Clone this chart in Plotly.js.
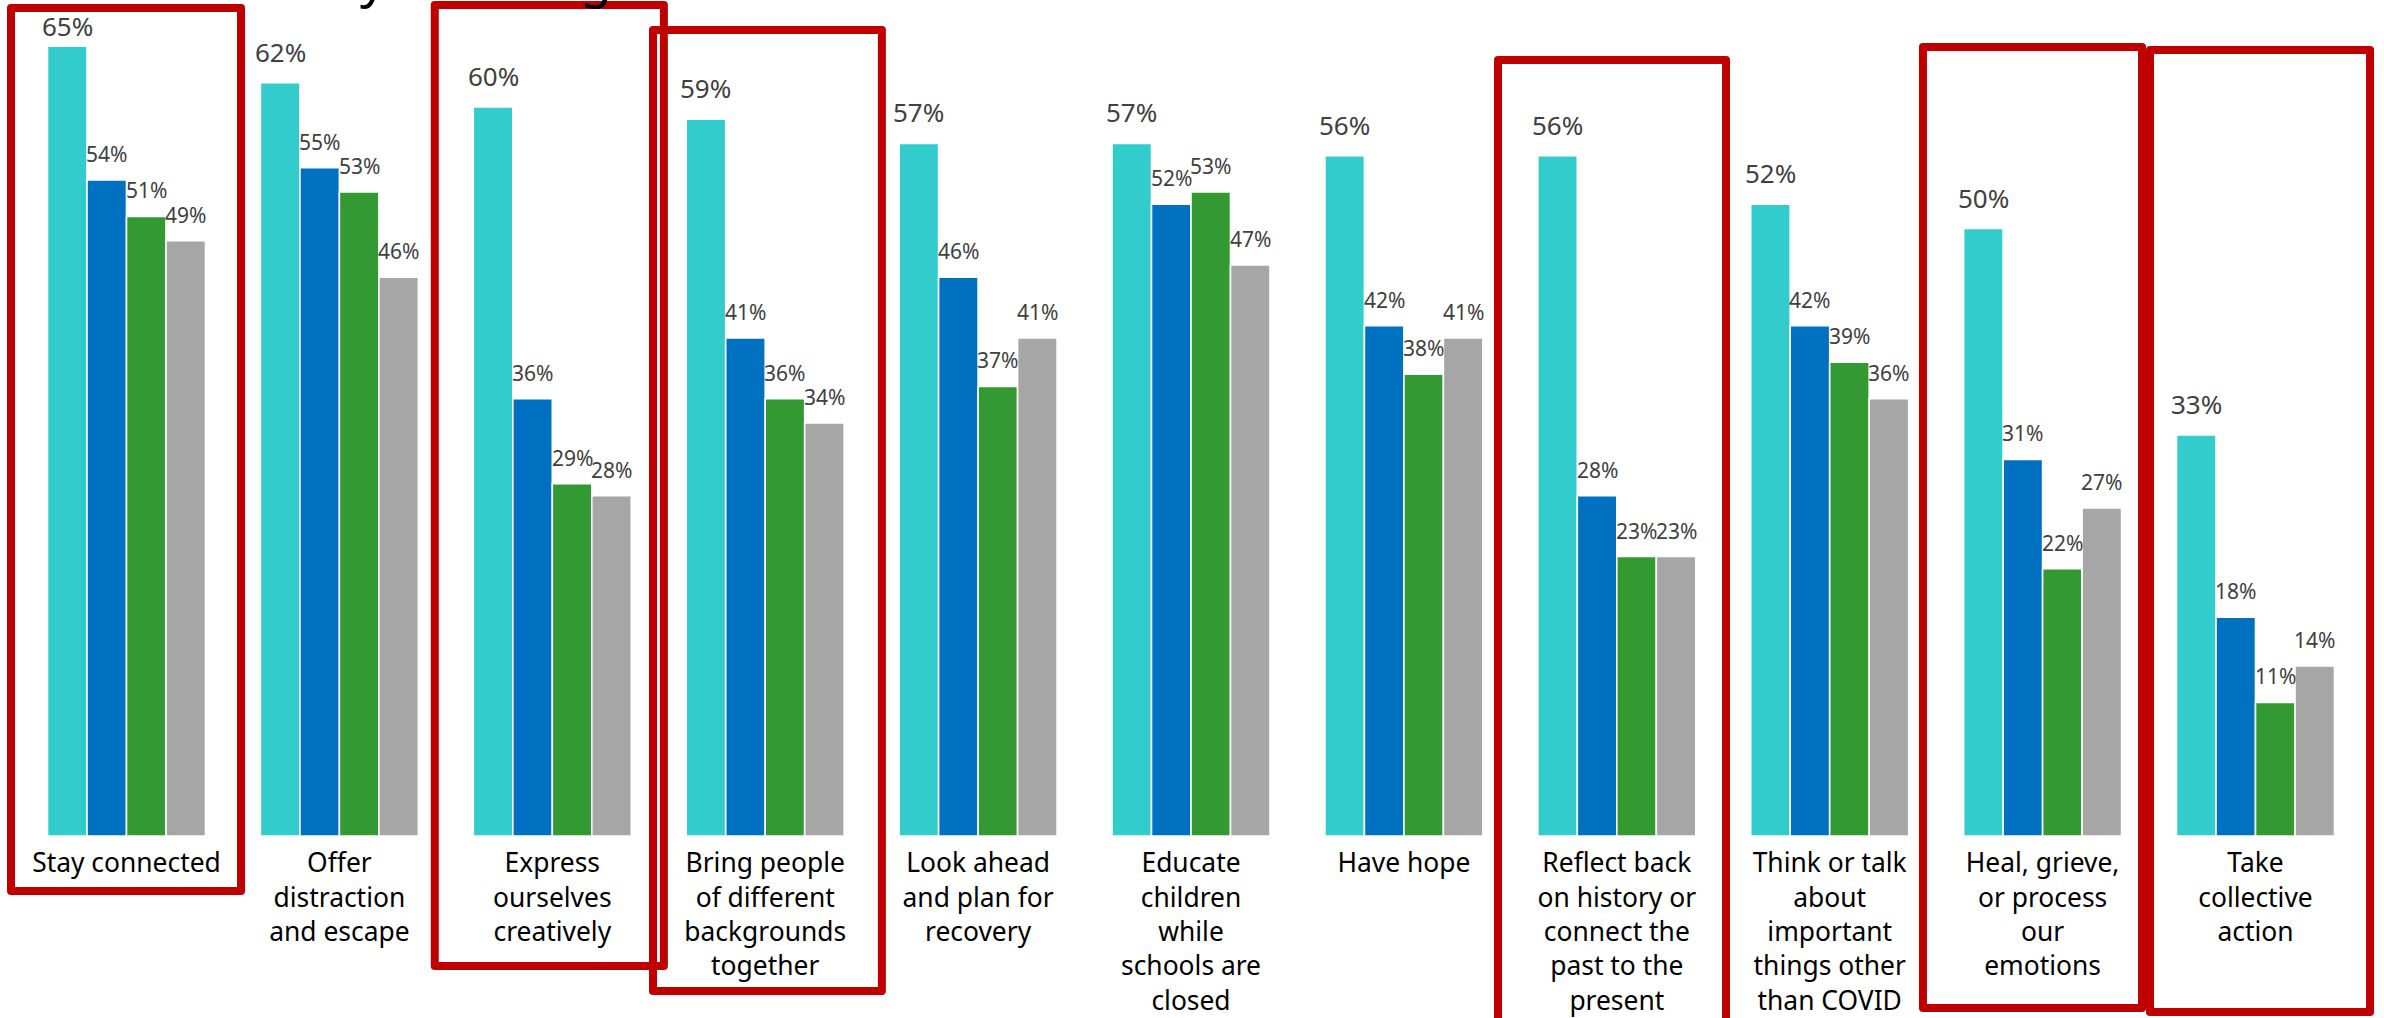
<!DOCTYPE html>
<html>
<head>
<meta charset="utf-8">
<script src="https://cdn.plot.ly/plotly-3.0.1.min.js"></script>
<style>
  html, body { margin: 0; padding: 0; background: #ffffff; }
  #chart { width: 2384px; height: 1018px; }
  .shapelayer path { stroke-linejoin: round; }
</style>
</head>
<body>
<div id="chart"></div>
<script>
// Category tick labels (line breaks as drawn under each group)
const categories = [
  "Stay connected",
  "Offer<br>distraction<br>and escape",
  "Express<br>ourselves<br>creatively",
  "Bring people<br>of different<br>backgrounds<br>together",
  "Look ahead<br>and plan for<br>recovery",
  "Educate<br>children<br>while<br>schools are<br>closed",
  "Have hope",
  "Reflect back<br>on history or<br>connect the<br>past to the<br>present",
  "Think or talk<br>about<br>important<br>things other<br>than COVID",
  "Heal, grieve,<br>or process<br>our<br>emotions",
  "Take<br>collective<br>action"
];

// Percent values for the four series, one per category
const seriesTeal  = [65, 62, 60, 59, 57, 57, 56, 56, 52, 50, 33];
const seriesBlue  = [54, 55, 36, 41, 46, 52, 42, 28, 42, 31, 18];
const seriesGreen = [51, 53, 29, 36, 37, 53, 38, 23, 39, 22, 11];
const seriesGray  = [49, 46, 28, 34, 41, 47, 41, 23, 36, 27, 14];

// Categories outlined with a red highlight box
const highlighted = [
  "Stay connected",
  "Express<br>ourselves<br>creatively",
  "Bring people<br>of different<br>backgrounds<br>together",
  "Reflect back<br>on history or<br>connect the<br>past to the<br>present",
  "Heal, grieve,<br>or process<br>our<br>emotions",
  "Take<br>collective<br>action"
];

// ---- styling ----
const W = 2384, H = 1018;
const marginB = 182;
const plotH = H - marginB;
const pxPerPct = 12.15;
const colors = ["#33CCCC", "#0070C0", "#339933", "#A6A6A6"];
const series = [seriesTeal, seriesBlue, seriesGreen, seriesGray];
const names = ["Teal", "Blue", "Green", "Gray"];
const pitch = 0.1855;          // bar slot width in category units
const labelFont = "Noto Sans, Open Sans, sans-serif";

const idx = categories.map((_, i) => i);

const traces = series.map((vals, k) => ({
  type: "bar",
  name: names[k],
  x: idx,
  y: vals,
  offset: (k - 2) * pitch,
  width: pitch,
  marker: { color: colors[k], line: { color: "#ffffff", width: 1.6 } },
  hoverinfo: "y",
  showlegend: false
}));

// value labels above each bar; a label that would run off the top is pulled down
const annotations = [];
series.forEach((vals, k) => {
  const size = k === 0 ? 26 : 21;
  const boxH = Math.round(size * 1.36) + 2;
  const baseShift = k === 0 ? 11 : 10;
  vals.forEach((v, i) => {
    const barTop = plotH - v * pxPerPct;
    const shift = Math.max(0, Math.min(baseShift, barTop - boxH - 9));
    annotations.push({
      x: i + (k - 1.5) * pitch,
      y: v,
      xref: "x", yref: "y",
      text: v + "%",
      showarrow: false,
      yanchor: "bottom",
      xanchor: "center",
      yshift: shift,
      font: { family: labelFont, size: size, color: "#404040" }
    });
  });
});

// descenders of the heading line running above the chart
annotations.push(
  { xref: "paper", yref: "paper", x: 373 / W, y: 1, yanchor: "bottom", xanchor: "center",
    yshift: -13, text: "y", showarrow: false,
    font: { family: labelFont, size: 52, color: "#000000" } },
  { xref: "paper", yref: "paper", x: 596 / W, y: 1, yanchor: "bottom", xanchor: "center",
    yshift: -13, text: "g", showarrow: false,
    font: { family: labelFont, size: 52, color: "#000000" } }
);

// highlight boxes: [left, right] offsets in category units, [top, bottom] in page px
const boxStyle = [
  { dx: [-0.5425, 0.5378], py: [8, 891] },
  { dx: [-0.552, 0.524],   py: [5, 966] },
  { dx: [-0.527, 0.548],   py: [30, 991] },
  { dx: [-0.558, 0.513],   py: [60, 1030] },
  { dx: [-0.562, 0.467],   py: [47, 1008] },
  { dx: [-0.4955, 0.538],  py: [50, 1012] }
];
const toPaperY = px => (plotH - px) / plotH;
const shapes = highlighted.map((name, j) => {
  const i = categories.indexOf(name);
  const s = boxStyle[j];
  return {
    type: "rect", layer: "above",
    xref: "x", yref: "paper",
    x0: i + s.dx[0], x1: i + s.dx[1],
    y0: toPaperY(s.py[1]), y1: toPaperY(s.py[0]),
    line: { color: "#C00000", width: 8 },
    fillcolor: "rgba(0,0,0,0)"
  };
});

const unit = 212.9;                 // px per category
const firstCenter = 126.5;          // px position of the first group centre
const x0 = -firstCenter / unit;

const layout = {
  width: W, height: H,
  margin: { l: 0, r: 0, t: 0, b: marginB, pad: 0 },
  paper_bgcolor: "#ffffff",
  plot_bgcolor: "#ffffff",
  barmode: "overlay",
  showlegend: false,
  xaxis: {
    range: [x0, x0 + W / unit],
    tickmode: "array",
    tickvals: idx,
    ticktext: categories,
    ticks: "",
    ticklabelstandoff: 9,
    showgrid: false, zeroline: false, showline: false,
    tickfont: { family: labelFont, size: 26.4, color: "#000000" },
    tickangle: 0,
    automargin: false
  },
  yaxis: {
    range: [0, plotH / pxPerPct],
    visible: false,
    showgrid: false, zeroline: false
  },
  annotations: annotations,
  shapes: shapes
};

Plotly.newPlot("chart", traces, layout, { displayModeBar: false, staticPlot: true });
</script>
</body>
</html>
